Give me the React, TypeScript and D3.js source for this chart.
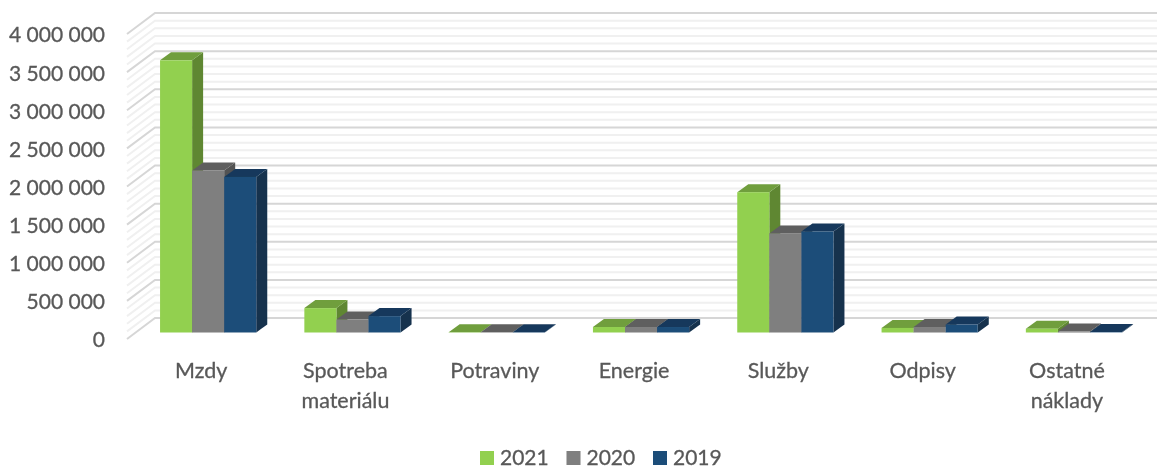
import * as d3 from "d3";

const categories = ["Mzdy", "Spotreba materiálu", "Potraviny", "Energie", "Služby", "Odpisy", "Ostatné náklady"];
const categoryLines = [["Mzdy"], ["Spotreba", "materiálu"], ["Potraviny"], ["Energie"], ["Služby"], ["Odpisy"], ["Ostatné", "náklady"]];
const years = ["2021", "2020", "2019"];

const values2021 = [3570000, 320000, 4000, 72000, 1840000, 60000, 50000];
const values2020 = [2125000, 170000, 4000, 72000, 1300000, 72000, 12000];
const values2019 = [2040000, 215000, 4000, 72000, 1325000, 105000, 5000];
const seriesValues = [values2021, values2020, values2019];

const frontColors = ["#92d050", "#7f7f7f", "#1f4e79"];
const topColors = ["#6f9e3c", "#5f5f5f", "#17395b"];
const sideColors = ["#5f8732", "#525252", "#14304e"];

const yTicks = d3.range(0, 4000001, 500000);
const minorTicks = d3.range(0, 4000001, 100000).filter(d => d % 500000 !== 0);

const width = 1157;
const height = 467;

// 3d offsets
const wallDx = 28;
const wallDy = 21;
const barDx = 11;
const barDy = 8;

const fmt = (d: number) => d3.format(",")(d).replace(/,/g, " ");

export default function App() {
    const yWall = d3.scaleLinear().domain([0, 4000000]).range([339, 34]);
    const yBar = d3.scaleLinear().domain([0, 4000000]).range([332.5, 27.5]);

    const x = d3.scaleBand<string>()
        .domain(categories)
        .range([136, 136 + 7 * 144.3])
        .paddingInner(1 / 3)
        .paddingOuter(1 / 6);
    const xInner = d3.scaleBand<string>()
        .domain(years)
        .range([0, x.bandwidth()]);

    const font = "Lato, Carlito, sans-serif";
    const text = "#595959";
    const wallLeft = x.range()[0] - 9;

    // Potraviny sits a bit right of its slot in the original
    const labelX = (c: string) => x(c)! + x.bandwidth() / 2 - 7 + (c === "Potraviny" ? 5 : 0);

    const wallLine = (d: number, color: string, w: number) => {
        const y0 = yWall(d);
        return (
            <path
                key={d}
                d={`M${wallLeft},${y0}L${wallLeft + wallDx},${y0 - wallDy}L${width},${y0 - wallDy}`}
                fill="none"
                stroke={color}
                strokeWidth={w}
            />
        );
    };

    return (
        <svg
            width={width}
            height={height}
            viewBox={`0 0 ${width} ${height}`}
            style={{ position: "absolute", left: 0, top: 0, display: "block", background: "#fff" }}
        >
            <defs>
                <filter id="soft" x="-5%" y="-5%" width="110%" height="110%">
                    <feGaussianBlur stdDeviation="0.55" />
                </filter>
            </defs>
            <g filter="url(#soft)">
                <g>
                    {minorTicks.map(d => wallLine(d, "#f0f0f0", 2))}
                    {yTicks.map(d => wallLine(d, "#d6d6d6", 2))}
                </g>

                {categories.map((c, i) => (
                    <g key={c} transform={`translate(${x(c)},0)`}>
                        {years.map((yr, s) => {
                            const x0 = xInner(yr)!;
                            const x1 = x0 + xInner.bandwidth();
                            const yTop = yBar(seriesValues[s][i]);
                            const yBase = yBar(0);
                            return (
                                <g key={yr}>
                                    <path
                                        d={`M${x1},${yTop}L${x1 + barDx},${yTop - barDy}L${x1 + barDx},${yBase - barDy}L${x1},${yBase}Z`}
                                        fill={sideColors[s]}
                                    />
                                    <path
                                        d={`M${x0},${yTop}L${x0 + barDx},${yTop - barDy}L${x1 + barDx},${yTop - barDy}L${x1},${yTop}Z`}
                                        fill={topColors[s]}
                                    />
                                    <rect x={x0} y={yTop} width={x1 - x0} height={yBase - yTop} fill={frontColors[s]} />
                                </g>
                            );
                        })}
                    </g>
                ))}

                <g stroke={text} strokeWidth={0.3} fill={text} fontFamily={font}>
                    {yTicks.map(d => (
                        <text key={d} x={105} y={yWall(d)} dy="0.4em" textAnchor="end" fontSize={21}>
                            {fmt(d)}
                        </text>
                    ))}

                    {categories.map((c, i) => (
                        <text key={c} y={370} textAnchor="middle" fontSize={21.5}>
                            {categoryLines[i].map((line, j) => (
                                <tspan key={line} x={labelX(c)} dy={j === 0 ? "0.35em" : 30}>
                                    {line}
                                </tspan>
                            ))}
                        </text>
                    ))}

                    {years.map((yr, s) => (
                        <g key={yr} transform={`translate(${480 + s * 86.5},0)`}>
                            <rect x={0} y={451} width={14} height={14} fill={frontColors[s]} stroke="none" />
                            <text x={20} y={458} dy="0.35em" fontSize={21}>
                                {yr}
                            </text>
                        </g>
                    ))}
                </g>
            </g>
        </svg>
    );
}
